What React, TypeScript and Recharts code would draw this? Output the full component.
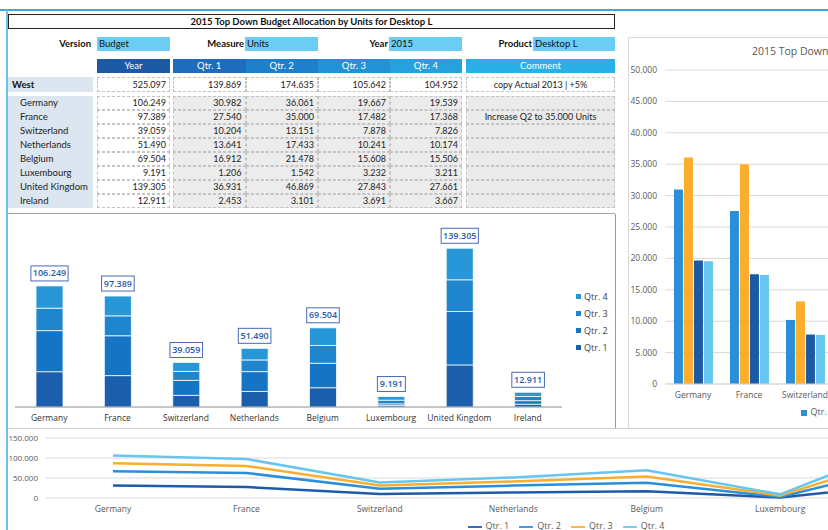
import React from 'react';
import { BarChart, Bar, XAxis, YAxis, CartesianGrid, Legend, LabelList, AreaChart, Area } from 'recharts';

const categories = ['Germany', 'France', 'Switzerland', 'Netherlands', 'Belgium', 'Luxembourg', 'United Kingdom', 'Ireland'];
const q1 = [30982, 27540, 10204, 13641, 16912, 1206, 36931, 2453];
const q2 = [36061, 35000, 13151, 17433, 21478, 1542, 46869, 3101];
const q3 = [19667, 17482, 7878, 10241, 15608, 3232, 27843, 3691];
const q4 = [19539, 17368, 7826, 10174, 15506, 3211, 27661, 3667];
const yearTotals = [106249, 97389, 39059, 51490, 69504, 9191, 139305, 12911];
const comments = ['', 'Increase Q2 to 35.000 Units', '', '', '', '', '', ''];
const westLabel = 'West';
const westValues = [525097, 139869, 174635, 105642, 104952];
const westComment = 'copy Actual 2013 | +5%';
const quarterNames = ['Qtr. 1', 'Qtr. 2', 'Qtr. 3', 'Qtr. 4'];
const headerNames = ['Year', ...quarterNames];
const filterLabels = ['Version', 'Measure', 'Year', 'Product'];
const filterValues = ['Budget', 'Units', '2015', 'Desktop L'];
const titleText = '2015 Top Down Budget Allocation by Units for Desktop L';
const rightTicks = [0, 5000, 10000, 15000, 20000, 25000, 30000, 35000, 40000, 45000, 50000];
const lineTicks = [0, 50000, 100000, 150000];

const data = categories.map((name, i) => ({ name, q1: q1[i], q2: q2[i], q3: q3[i], q4: q4[i], total: yearTotals[i] }));

const fmt = (n: number) => String(Math.round(n)).replace(/\B(?=(\d{3})+(?!\d))/g, '.');

// layout
const colX = [97, 173, 245.5, 318, 390];
const colW = [73, 72.5, 72.5, 72, 72];
const headerColors = ['#1c5aa6', '#1f6cbd', '#1e80cc', '#2291d5', '#27a1dd'];
const commentX = 466;
const commentW = 149;
const filterLabelRight = [91, 244, 388, 532];
const filterBoxX = [97, 245, 389, 533];
const filterBoxW = [73, 73, 73, 82];

const stackColors = ['#1b5eab', '#1674c5', '#1f86cd', '#2897d7'];
const clusterColors = ['#2a8fd8', '#fbae2c', '#1d5aa6', '#67c6f0'];
const lineColors = ['#1f5aa8', '#2a8fd8', '#fbae2c', '#67c6f0'];

const tableFont = "Lato, 'Open Sans', sans-serif";
const chartFont = "'Open Sans', 'Noto Sans', sans-serif";

const abs = (l: number, t: number, w: number, h: number, extra: React.CSSProperties = {}): React.CSSProperties => ({
  position: 'absolute', left: l, top: t, width: w, height: h, boxSizing: 'border-box', ...extra,
});

const greyText = (v: any) => <span style={{ color: '#595959' }}>{v}</span>;

const TotalLabel = (props: any) => {
  const vb = props.viewBox && props.viewBox.width != null ? props.viewBox : props;
  const x = Number(vb.x), y = Number(vb.y), width = Number(vb.width);
  const v = props.index != null ? yearTotals[props.index] : props.value;
  const text = fmt(v);
  const w = text.length * 4.6 + 5;
  const cx = x + width / 2;
  return (
    <g>
      <rect x={cx - w / 2} y={y - 20} width={w} height={15} fill="#fff" stroke="#4a69b8" strokeWidth={1} />
      <text x={cx} y={y - 9.5} textAnchor="middle" fontSize={9} fill="#2a5aa8" fontWeight={600} fontFamily={chartFont}>{text}</text>
    </g>
  );
};

const StackLegend = (props: any) => {
  const items = [...(props.payload || [])].reverse();
  return (
    <div style={{ fontFamily: chartFont, fontSize: 9, color: '#404040' }}>
      {items.map((it: any) => (
        <div key={it.value} style={{ display: 'flex', alignItems: 'center', height: 17 }}>
          <span style={{ display: 'inline-block', width: 5, height: 5, background: it.color, marginRight: 3 }} />
          {it.value}
        </div>
      ))}
    </div>
  );
};

const Cell = ({ l, t, w, h, bg, text, align = 'right' }: any) => (
  <div style={abs(l, t, w, h, {
    background: bg, border: '1px dashed #c4c4c4', fontSize: 9, lineHeight: `${h - 2}px`,
    textAlign: align, paddingRight: align === 'right' ? 3 : 0, color: '#222', whiteSpace: 'nowrap', overflow: 'hidden',
  })}>{text}</div>
);

export default function App() {
  const rowTop = 96;
  const rowH = 14;
  return (
    <div style={{ position: 'fixed', left: 0, top: 0, width: 828, height: 530, overflow: 'hidden', background: '#fff', fontFamily: tableFont }}>
      {/* frame lines */}
      <div style={abs(0, 9, 828, 2, { background: '#3aa8e0' })} />
      <div style={abs(6, 10, 2, 520, { background: '#6cc0ea' })} />

      {/* title */}
      <div style={abs(8, 14, 607, 15, { border: '1px solid #222', fontWeight: 700, fontSize: 9.5, textAlign: 'center', lineHeight: '13px', color: '#111' })}>{titleText}</div>

      {/* filters */}
      {filterLabels.map((lab, i) => (
        <React.Fragment key={lab}>
          <div style={abs(filterLabelRight[i] - 60, 37, 60, 14, { textAlign: 'right', fontWeight: 700, fontSize: 9.5, lineHeight: '14px', color: '#111' })}>{lab}</div>
          <div style={abs(filterBoxX[i], 37, filterBoxW[i], 14, { background: '#6ccdf4', fontSize: 9.5, lineHeight: '14px', paddingLeft: 2, color: '#111' })}>{filterValues[i]}</div>
        </React.Fragment>
      ))}

      {/* header */}
      {headerNames.map((h, i) => (
        <div key={h} style={abs(colX[i], 59, colW[i], 14, { background: headerColors[i], color: '#fff', fontSize: 9.5, textAlign: 'center', lineHeight: '14px' })}>{h}</div>
      ))}
      <div style={abs(commentX, 59, commentW, 14, { background: '#2aafe6', color: '#fff', fontSize: 9.5, textAlign: 'center', lineHeight: '14px' })}>Comment</div>

      {/* West row */}
      <div style={abs(8, 77, 85, 15, { background: '#dce6f1', fontWeight: 700, fontSize: 9.5, lineHeight: '15px', paddingLeft: 4, color: '#111' })}>{westLabel}</div>
      {westValues.map((v, i) => (
        <Cell key={i} l={colX[i]} t={77} w={colW[i]} h={15} bg="#fff" text={fmt(v)} />
      ))}
      <Cell l={commentX} t={77} w={commentW} h={15} bg="#fff" text={westComment} align="center" />

      {/* country rows */}
      <div style={abs(8, rowTop, 85, rowH * categories.length, { background: '#dce6f1' })} />
      {categories.map((c, r) => {
        const vals = [yearTotals[r], q1[r], q2[r], q3[r], q4[r]];
        const t = rowTop + r * rowH;
        return (
          <React.Fragment key={c}>
            <div style={abs(20, t, 73, rowH, { fontSize: 9.5, lineHeight: `${rowH}px`, color: '#222', whiteSpace: 'nowrap' })}>{c}</div>
            {vals.map((v, i) => (
              <Cell key={i} l={colX[i]} t={t} w={colW[i]} h={rowH} bg={i === 0 ? '#fff' : '#ececec'} text={fmt(v)} />
            ))}
            <Cell l={commentX} t={t} w={commentW} h={rowH} bg="#ebebeb" text={comments[r]} align="center" />
          </React.Fragment>
        );
      })}

      {/* separators */}
      <div style={abs(8, 213, 607, 1, { background: '#a6a6a6' })} />
      <div style={abs(615, 214, 1, 214, { background: '#9a9a9a' })} />
      <div style={abs(8, 428, 820, 1, { background: '#d0d0d0' })} />

      {/* stacked bar chart */}
      <div style={{ position: 'absolute', left: 8, top: 214, fontFamily: chartFont }}>
        <BarChart width={607} height={214} data={data} margin={{ top: 5, right: 53, left: 7, bottom: 3 }} barSize={27}>
          <XAxis dataKey="name" axisLine={{ stroke: '#8c8c8c' }} tickLine={false} height={18} interval={0}
            tick={{ fontSize: 8.5, fill: '#333' }} />
          <YAxis hide domain={[0, 165000]} />
          <Legend layout="vertical" align="center" verticalAlign="middle" content={<StackLegend />}
            wrapperStyle={{ left: 568, top: 74, width: 50 }} />
          {['q1', 'q2', 'q3', 'q4'].map((k, i) => (
            <Bar key={k} dataKey={k} name={quarterNames[i]} stackId="s" fill={stackColors[i]} stroke="#ffffff" strokeOpacity={0.75} strokeWidth={1} isAnimationActive={false}>
              {i === 3 ? <LabelList dataKey="total" content={<TotalLabel />} /> : null}
            </Bar>
          ))}
        </BarChart>
      </div>

      {/* right clustered chart */}
      <div style={abs(628, 37, 520, 1, { background: '#d9d9d9' })} />
      <div style={abs(628, 37, 1, 391, { background: '#d9d9d9' })} />
      <div style={{ position: 'absolute', left: 628, top: 37, width: 520, height: 391, fontFamily: chartFont }}>
        <div style={{ position: 'absolute', left: 2, top: 7, width: 520, textAlign: 'center', fontSize: 10.5, color: '#595959' }}>{titleText}</div>
        <BarChart width={520} height={391} data={data} margin={{ top: 33, right: 35, left: 0, bottom: 22 }} barCategoryGap="16%" barGap={1}>
          <CartesianGrid vertical={false} stroke="#d9d9d9" />
          <XAxis dataKey="name" axisLine={{ stroke: '#d9d9d9' }} tickLine={false} height={22} interval={0}
            tick={{ fontSize: 8.5, fill: '#595959' }} />
          <YAxis width={37} domain={[0, 50000]} ticks={rightTicks} tickFormatter={fmt} axisLine={false} tickLine={false}
            tick={{ fontSize: 8.5, fill: '#595959' }} interval={0} />
          <Legend layout="horizontal" align="center" verticalAlign="middle" iconType="square" iconSize={6}
            formatter={greyText}
            wrapperStyle={{ top: 368, left: 0, width: 520, fontSize: 9 }} />
          {['q1', 'q2', 'q3', 'q4'].map((k, i) => (
            <Bar key={k} dataKey={k} name={quarterNames[i]} fill={clusterColors[i]} isAnimationActive={false} />
          ))}
        </BarChart>
      </div>

      {/* bottom stacked line chart */}
      <div style={{ position: 'absolute', left: 0, top: 428, fontFamily: chartFont }}>
        <AreaChart width={1130} height={112} data={data} margin={{ top: 10, right: 16, left: 0, bottom: 22 }}>
          <CartesianGrid vertical={false} stroke="#d9d9d9" />
          <XAxis dataKey="name" axisLine={false} tickLine={false} padding={{ left: 67, right: 67 }} height={20} interval={0}
            tick={{ fontSize: 8.5, fill: '#595959' }} />
          <YAxis width={46} domain={[0, 150000]} ticks={lineTicks} tickFormatter={fmt} axisLine={false} tickLine={false}
            tick={{ fontSize: 8, fill: '#595959' }} interval={0} />
          <Legend layout="horizontal" align="center" verticalAlign="middle" iconSize={14} formatter={greyText}
            wrapperStyle={{ top: 92, left: 6, width: 1130, fontSize: 9, lineHeight: '12px' }} />
          {['q1', 'q2', 'q3', 'q4'].map((k, i) => (
            <Area key={k} type="linear" dataKey={k} name={quarterNames[i]} stackId="l" stroke={lineColors[i]} fill="none"
              strokeWidth={2.5} legendType="plainline" dot={false} activeDot={false} isAnimationActive={false} />
          ))}
        </AreaChart>
      </div>
    </div>
  );
}
